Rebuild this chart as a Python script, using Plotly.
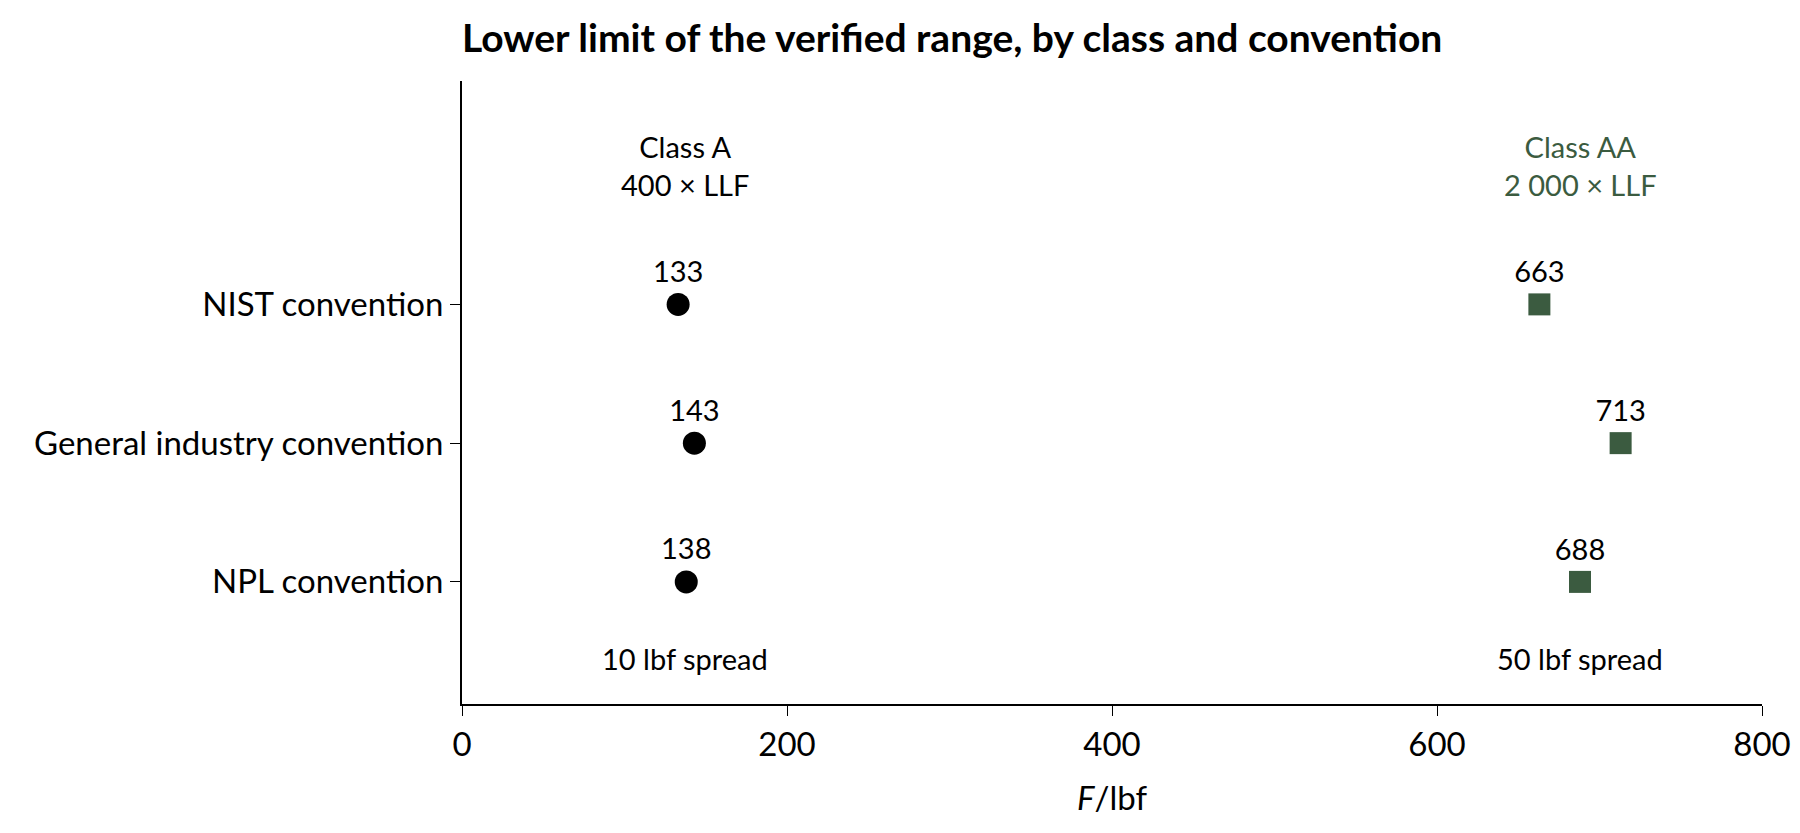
import plotly.graph_objects as go

categories = ["NPL convention", "General industry convention", "NIST convention"]
class_a = [138, 143, 133]
class_aa = [688, 713, 663]
green = "#3b5b40"
font = "Lato"

fig = go.Figure()
fig.add_trace(go.Scatter(x=class_a, y=categories, mode="markers+text",
    marker=dict(symbol="circle", size=23, color="black"),
    text=[str(v) for v in class_a], textposition="top center",
    textfont=dict(size=29, color="black", family=font), cliponaxis=False))
fig.add_trace(go.Scatter(x=class_aa, y=categories, mode="markers+text",
    marker=dict(symbol="square", size=22, color=green),
    text=[str(v) for v in class_aa], textposition="top center",
    textfont=dict(size=29, color="black", family=font), cliponaxis=False))

ann = [
    dict(x=137, y=3.0, text="Class A<br>400 × LLF", color="black"),
    dict(x=688, y=3.0, text="Class AA<br>2 000 × LLF", color=green),
    dict(x=137, y=-0.55, text="10 lbf spread", color="black"),
    dict(x=688, y=-0.55, text="50 lbf spread", color="black"),
]
for a in ann:
    fig.add_annotation(x=a["x"], y=a["y"], text=a["text"], showarrow=False,
                       font=dict(size=29, color=a["color"], family=font))

fig.update_layout(
    width=1800, height=833, plot_bgcolor="white", paper_bgcolor="white",
    showlegend=False, font=dict(family=font, color="black"),
    margin=dict(l=454, r=46, t=73, b=137),
    title=dict(text="<b>Lower limit of the verified range, by class and convention</b>",
               x=0, xref="paper", xanchor="left", y=0.964, yanchor="middle",
               font=dict(size=39, family=font)),
    xaxis=dict(range=[0, 800], tickvals=[0, 200, 400, 600, 800], showgrid=False,
               zeroline=False, showline=True, linecolor="black", linewidth=2,
               ticks="outside", ticklen=10, tickcolor="black",
               tickfont=dict(size=33, family=font),
               title=dict(text="<i>F</i>/lbf", font=dict(size=33, family=font), standoff=25)),
    yaxis=dict(type="category", categoryorder="array", categoryarray=categories,
               range=[-0.88, 3.61], showgrid=False, zeroline=False, showline=True,
               linecolor="black", linewidth=2, ticks="outside", ticklen=10,
               tickcolor="black", tickfont=dict(size=33, family=font)),
)
fig.write_html("out.html")
